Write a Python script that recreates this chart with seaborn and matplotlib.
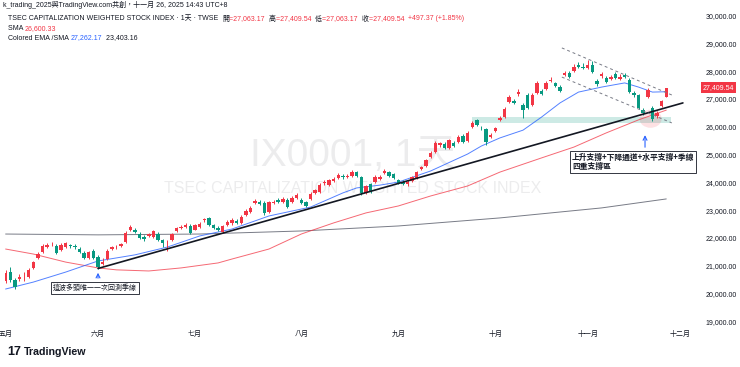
import numpy as np
import pandas as pd
import matplotlib
matplotlib.use("Agg")
import matplotlib.pyplot as plt
import seaborn as sns
from matplotlib.patches import Ellipse

# daily candles of the index, 2025-05-02 .. 2025-11-26
opens = [20450, 20770, 20480, 20520, 20590, 20600, 20920, 21280, 21490, 21670,
         21780, 21720, 21560, 21690, 21720, 21700, 21610, 21450, 21280, 21530,
         21310, 21060, 21240, 21600, 21670, 21710, 21850, 22280, 22290, 22150,
         22030, 22060, 22030, 22150, 21930, 21850, 21920, 22250, 22350, 22390,
         22430, 22300, 22400, 22650, 22720, 22450, 22370, 22220, 22460, 22530,
         22620, 22540, 22830, 22930, 23250, 23300, 23260, 22930, 23260, 23370,
         23290, 23370, 23300, 23440, 23370, 23290, 23400, 23620, 23650, 23970,
         23900, 24050, 24160, 24230, 24180, 24230, 24370, 24200, 23620, 23940,
         24010, 24130, 24340, 24370, 24300, 24090, 24020, 23940, 24050, 24160,
         24480, 24590, 24910, 25090, 25340, 25380, 25240, 25420, 25450, 25670,
         25490, 25990, 26250, 25960, 25920, 25630, 25850, 26240, 26350, 26890,
         26930, 27180, 26790, 27140, 26790, 27220, 27290, 27360, 27650, 27580,
         27430, 27870, 27940, 28010, 28230, 28150, 28120, 28230, 27650, 27830,
         27760, 27720, 27900, 27720, 27870, 27690, 27220, 27140, 26600, 27070,
         26680, 26390, 26750, 27063.17]
highs = [20850, 20950, 20560, 20700, 20770, 20920, 21170, 21490, 21780, 21820,
         21850, 21790, 21820, 21840, 21790, 21770, 21660, 21530, 21530, 21600,
         21380, 21270, 21600, 21710, 21740, 21820, 22250, 22460, 22360, 22200,
         22100, 22180, 22290, 22220, 21960, 21920, 22180, 22400, 22460, 22540,
         22500, 22500, 22560, 22720, 22760, 22500, 22430, 22460, 22640, 22710,
         22680, 22820, 23040, 23150, 23400, 23360, 23330, 23330, 23370, 23440,
         23470, 23440, 23500, 23620, 23440, 23330, 23650, 23760, 23980, 24080,
         24120, 24190, 24330, 24300, 24300, 24440, 24410, 24230, 23900, 23980,
         24270, 24270, 24480, 24410, 24340, 24120, 24080, 24090, 24230, 24410,
         24600, 24840, 25130, 25490, 25450, 25450, 25560, 25490, 25700, 25740,
         25850, 26210, 26280, 26030, 25960, 25770, 26000, 26390, 26710, 27140,
         27000, 27360, 26860, 27200, 27200, 27650, 27360, 27650, 27790, 27610,
         27500, 28010, 28010, 28260, 28330, 28300, 28400, 28370, 27720, 27970,
         27830, 27870, 27970, 27900, 27940, 27760, 27290, 27180, 26680, 27400,
         26750, 26560, 26960, 27409.54]
lows = [20380, 20410, 20160, 20450, 20450, 20560, 20880, 21240, 21460, 21640,
        21710, 21420, 21530, 21650, 21640, 21590, 21460, 21240, 21240, 21240,
        20880, 21020, 21200, 21570, 21600, 21670, 21820, 22250, 22180, 21960,
        21900, 22030, 21990, 21890, 21670, 21530, 21890, 22210, 22320, 22350,
        22140, 22270, 22370, 22580, 22430, 22320, 22250, 22180, 22430, 22480,
        22500, 22500, 22790, 22900, 23220, 23180, 22830, 22890, 23220, 23250,
        23250, 23080, 23260, 23400, 23220, 23110, 23370, 23580, 23620, 23910,
        23870, 24010, 24120, 24120, 24150, 24200, 24190, 23550, 23580, 23620,
        23980, 24100, 24300, 24190, 24120, 23940, 23900, 23870, 24010, 24120,
        24440, 24550, 24880, 25060, 25270, 25200, 25200, 25270, 25420, 25420,
        25450, 25960, 26030, 25890, 25350, 25600, 25810, 26210, 26320, 26860,
        26820, 27110, 26320, 26640, 26750, 27180, 27150, 27330, 27610, 27430,
        27250, 27830, 27760, 27970, 28120, 28080, 28080, 27940, 27470, 27760,
        27580, 27680, 27720, 27680, 27760, 27220, 27060, 26640, 26420, 27020,
        26200, 26330, 26700, 27063.17]
closes = [20740, 20490, 20230, 20590, 20610, 20840, 21130, 21420, 21710, 21750,
          21790, 21460, 21740, 21800, 21710, 21680, 21490, 21280, 21490, 21280,
          20950, 21130, 21530, 21670, 21680, 21790, 22180, 22400, 22210, 22000,
          21960, 22140, 22250, 21920, 21820, 21870, 22140, 22360, 22390, 22470,
          22180, 22470, 22500, 22660, 22470, 22360, 22290, 22430, 22570, 22650,
          22540, 22750, 22970, 23080, 23330, 23220, 22900, 23290, 23310, 23290,
          23400, 23110, 23440, 23550, 23260, 23150, 23580, 23730, 23900, 24010,
          24090, 24120, 24270, 24180, 24230, 24370, 24230, 23620, 23870, 23660,
          24190, 24200, 24410, 24230, 24160, 23980, 23940, 24010, 24190, 24370,
          24550, 24810, 25060, 25420, 25400, 25240, 25530, 25310, 25630, 25450,
          25780, 26140, 26070, 25950, 25450, 25710, 25960, 26320, 26640, 27070,
          26860, 27250, 26610, 26680, 27140, 27580, 27180, 27580, 27690, 27470,
          27290, 27940, 27790, 28150, 28150, 28120, 28230, 27970, 27540, 27900,
          27610, 27790, 27760, 27800, 27790, 27250, 27150, 26680, 26500, 27330,
          26280, 26500, 26912.17, 27409.54]

holidays = ['2025-05-30', '2025-09-29', '2025-10-06', '2025-10-10', '2025-10-24']
month_names = ['五月', '六月', '七月', '八月', '九月', '十月', '十一月', '十二月']

# indicator curves, sampled along the lines (bar number, value)
ema_bar = [0, 6, 13, 20, 28, 35, 42, 49, 57, 66, 73, 76, 81, 85, 92, 100, 103,
           107, 112, 116, 120, 124, 129, 134, 137, 140, 143]
ema_val = [20160, 20410, 20770, 21170, 21390, 21670, 22070, 22320, 22790, 23110,
           23620, 23800, 23900, 24010, 24410, 25020, 25310, 25600, 25880, 26350,
           26860, 27250, 27430, 27580, 27430, 27250, 27262.17]
sma_bar = [0, 6, 13, 20, 24, 31, 38, 46, 49, 57, 64, 71, 78, 85, 92, 100, 107,
           116, 123, 130, 137, 143]
sma_val = [21600, 21420, 21130, 20920, 20850, 20810, 20920, 21100, 21240, 21600,
           22140, 22540, 22900, 23150, 23510, 23870, 24370, 24880, 25270, 25780,
           26250, 26600.33]
long_bar = [0, 20, 42, 64, 85, 107, 129, 143]
long_val = [22140, 22110, 22140, 22250, 22430, 22720, 23080, 23403.16]

# hand-drawn lines
trend_bar = [20, 146.6]
trend_val = [20900, 26860]
chan_bar = [120.4, 144.2]
chan_top = [28840, 27145]
chan_bot = [27790, 26140]
zone_bar = [101, 144]
zone_lo, zone_hi = 26150, 26350

RED = '#f23645'
GREEN = '#089981'
BLUE = '#2962ff'
DARK = '#131722'
GREY = '#787b86'

sns.set_theme(style="white")
plt.rcParams['font.family'] = ['Liberation Sans', 'Noto Sans CJK TC', 'DejaVu Sans']
CJK = ['Noto Sans CJK TC', 'DejaVu Sans']

W, H = 740, 367
fig = plt.figure(figsize=(W / 100, H / 100), dpi=100)
ax = fig.add_axes([5 / W, 1 - 327 / H, 695 / W, 317 / H])

days = pd.bdate_range('2025-05-02', '2025-12-01')
days = days[~days.isin(pd.to_datetime(holidays))]

df = pd.DataFrame({'open': opens, 'high': highs, 'low': lows, 'close': closes})
df['date'] = days[:len(df)]
df['x'] = np.arange(len(df))
col = np.where(df['close'] >= df['open'], RED, GREEN)

# watermark
ax.text(0.5, 0.54, 'IX0001, 1天', transform=ax.transAxes, ha='center', va='center',
        fontsize=28, color=DARK, alpha=0.08, zorder=0)
ax.text(0.5, 0.438, 'TSEC CAPITALIZATION WEIGHTED STOCK INDEX', transform=ax.transAxes,
        ha='center', va='center', fontsize=11.5, color=DARK, alpha=0.08, zorder=0)

# support zone and highlight
ax.fill_between(zone_bar, zone_lo, zone_hi, color=GREEN, alpha=0.2, lw=0, zorder=1)
ax.add_patch(Ellipse((139.6, 26290), 4.8, 650, color=RED, alpha=0.15, lw=0, zorder=1))

sns.lineplot(x=long_bar, y=long_val, ax=ax, color=GREY, lw=0.7, zorder=2)
sns.lineplot(x=sma_bar, y=sma_val, ax=ax, color=RED, lw=0.7, alpha=0.75, zorder=2)
sns.lineplot(x=ema_bar, y=ema_val, ax=ax, color=BLUE, lw=0.7, alpha=0.8, zorder=2)

# candles
ax.vlines(df['x'], df['low'], df['high'], colors=col, lw=0.7, zorder=3)
body_lo = df[['open', 'close']].min(axis=1)
body_h = (df['close'] - df['open']).abs().clip(lower=18)
ax.bar(df['x'], body_h, bottom=body_lo, width=0.74, color=col, lw=0, zorder=4)

# drawings
ax.plot(trend_bar, trend_val, color=DARK, lw=1.2, zorder=5)
ax.plot(chan_bar, chan_top, color=GREY, lw=0.7, ls=(0, (3, 3)), zorder=5)
ax.plot(chan_bar, chan_bot, color=GREY, lw=0.7, ls=(0, (3, 3)), zorder=5)

ax.annotate('', xy=(20, 20845), xytext=(20, 20450),
            arrowprops=dict(arrowstyle='->', color=BLUE, lw=0.8, mutation_scale=7), zorder=6)
ax.text(19.4, 20200, '這波多頭唯一一次回測季線', family=CJK, fontsize=5, color=DARK,
        ha='center', va='center', zorder=6,
        bbox=dict(boxstyle='square,pad=0.25', fc='white', ec=DARK, lw=0.6))
ax.annotate('', xy=(138.4, 25800), xytext=(138.4, 25165),
            arrowprops=dict(arrowstyle='->', color=BLUE, lw=0.8, mutation_scale=7), zorder=6)
ax.text(122.6, 25075, '上升支撐+下降通道+水平支撐+季線\n四重支撐區', family=CJK,
        fontsize=5.6, weight='bold', color=DARK, ha='left', va='top', linespacing=1.1,
        zorder=6, bbox=dict(boxstyle='square,pad=0.2', fc='white', ec=DARK, lw=0.6))

# axes
ax.set_xlim(-0.13, 150.3)
ax.set_ylim(18793, 30205)
ax.yaxis.tick_right()
yt = np.arange(19000, 30001, 1000)
ax.set_yticks(yt)
ax.set_yticklabels([f'{v:,.2f}' for v in yt])
month_pos = [0] + [i for i in range(1, len(days)) if days[i].month != days[i - 1].month]
ax.set_xticks(month_pos)
ax.set_xticklabels(month_names[:len(month_pos)])
ax.tick_params(axis='y', length=0, pad=4, labelsize=5, labelcolor=DARK)
ax.tick_params(axis='x', length=0, pad=3, labelsize=5, labelcolor=DARK)
ax.set_xlabel('')
ax.set_ylabel('')
for s in ax.spines.values():
    s.set_visible(False)

ax.text(1.004, 27409.54, '27,409.54', transform=ax.get_yaxis_transform(), fontsize=5,
        color='white', ha='left', va='center', zorder=7,
        bbox=dict(boxstyle='square,pad=0.3', fc=RED, ec='none'))


def header(x, y, parts, size=5):
    t = fig.text(x / W, 1 - y / H, parts[0][0], color=parts[0][1], fontsize=size, va='center')
    for s, c in parts[1:]:
        t = ax.annotate(s, xy=(1, 0.5), xycoords=t, va='center', ha='left',
                        color=c, fontsize=size, annotation_clip=False)


header(3, 5, [('k_trading_2025與TradingView.com共創，十一月 26, 2025 14:43 UTC+8', DARK)])
header(8, 19, [('TSEC CAPITALIZATION WEIGHTED STOCK INDEX · 1天 · TWSE  ', DARK),
               ('開', DARK), ('=27,063.17 ', RED), (' 高', DARK), ('=27,409.54 ', RED),
               (' 低', DARK), ('=27,063.17 ', RED), (' 收', DARK), ('=27,409.54 ', RED),
               (' +497.37 (+1.85%)', RED)])
header(8, 28.5, [('SMA ', DARK), ('26,600.33', RED)])
header(8, 38, [('Colored EMA /SMA ', DARK), ('27,262.17', BLUE), ('  23,403.16', DARK)])

fig.text(7 / W, 1 - 352 / H, '17', fontsize=9, weight='heavy', color=DARK, va='center')
fig.text(24 / W, 1 - 352 / H, 'TradingView', fontsize=7.7, weight='bold', color=DARK, va='center')

fig.savefig('out.png', dpi=100, facecolor='white')
